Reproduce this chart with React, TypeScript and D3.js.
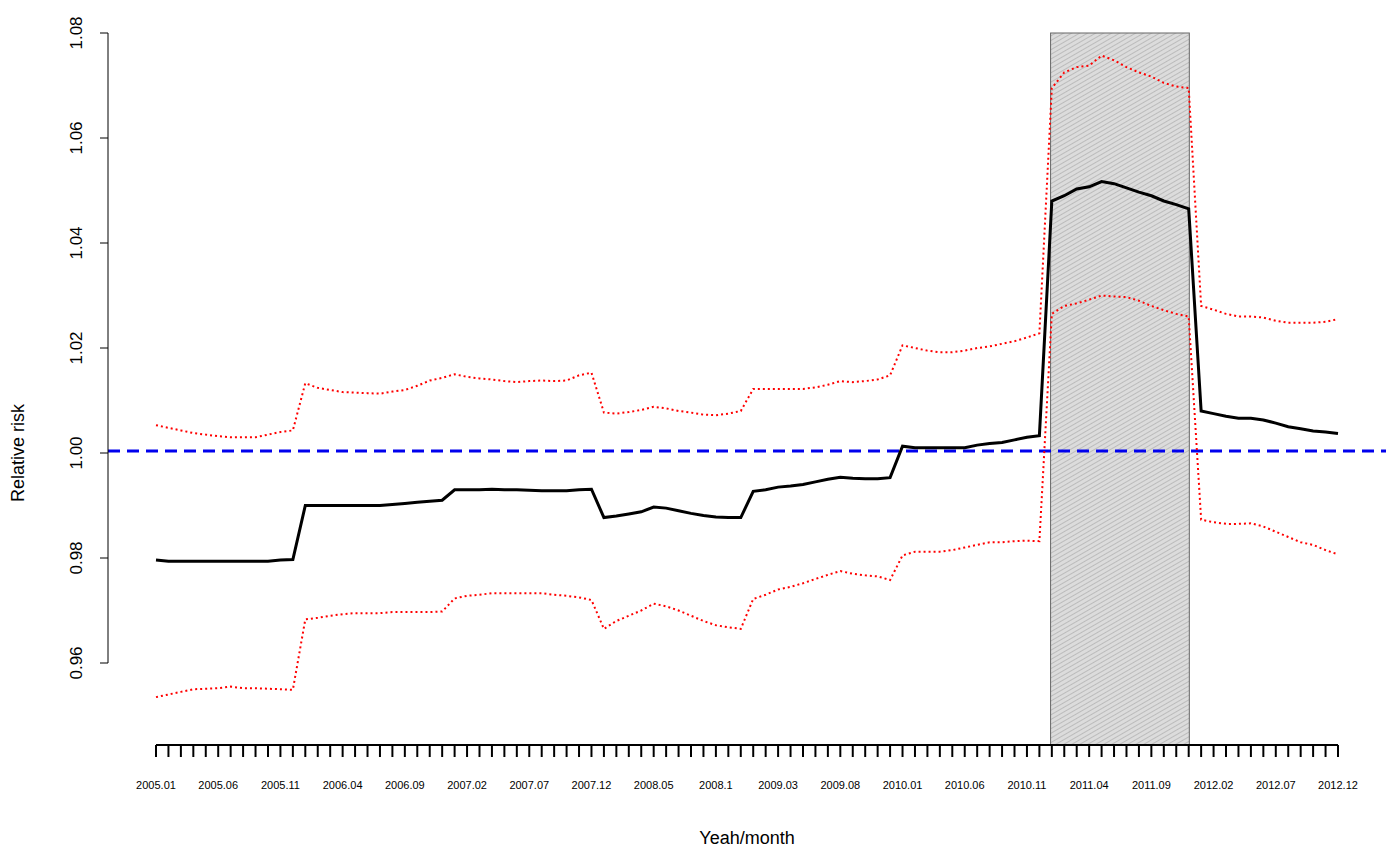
import * as d3 from "d3";

const tickLabels = ["2005.01","2005.06","2005.11","2006.04","2006.09","2007.02","2007.07","2007.12","2008.05","2008.1","2009.03","2009.08","2010.01","2010.06","2010.11","2011.04","2011.09","2012.02","2012.07","2012.12"];

const estimate = [
  0.9796,0.9794,0.9794,0.9794,0.9794,0.9794,0.9794,0.9794,0.9794,0.9794,0.9796,0.9797,
  0.9900,0.9900,0.9900,0.9900,0.9900,0.9900,0.9900,0.9902,0.9904,0.9906,0.9908,0.9910,
  0.9930,0.9930,0.9930,0.9931,0.9930,0.9930,0.9929,0.9928,0.9928,0.9928,0.9930,0.9931,
  0.9877,0.9880,0.9884,0.9888,0.9897,0.9895,0.9890,0.9885,0.9881,0.9878,0.9877,0.9877,
  0.9927,0.9930,0.9935,0.9937,0.9940,0.9945,0.9950,0.9954,0.9952,0.9951,0.9951,0.9953,
  1.0013,1.0010,1.0010,1.0010,1.0010,1.0010,1.0015,1.0018,1.0020,1.0025,1.0030,1.0033,
  1.0480,1.0490,1.0503,1.0507,1.0517,1.0513,1.0505,1.0497,1.0490,1.0480,1.0473,1.0465,
  1.0080,1.0075,1.0070,1.0066,1.0066,1.0063,1.0057,1.0050,1.0046,1.0042,1.0040,1.0037,
];
const upper = [
  1.0053,1.0048,1.0043,1.0038,1.0035,1.0032,1.0030,1.0030,1.0030,1.0035,1.0040,1.0043,
  1.0133,1.0124,1.0120,1.0116,1.0115,1.0114,1.0113,1.0117,1.0120,1.0128,1.0138,1.0143,
  1.0150,1.0145,1.0142,1.0140,1.0137,1.0135,1.0137,1.0138,1.0137,1.0138,1.0148,1.0153,
  1.0077,1.0075,1.0078,1.0082,1.0088,1.0085,1.0080,1.0077,1.0073,1.0072,1.0075,1.0080,
  1.0122,1.0122,1.0122,1.0122,1.0122,1.0125,1.0130,1.0137,1.0135,1.0137,1.0140,1.0148,
  1.0205,1.0200,1.0195,1.0192,1.0192,1.0195,1.0200,1.0203,1.0208,1.0213,1.0220,1.0228,
  1.0695,1.0725,1.0735,1.0738,1.0757,1.0748,1.0735,1.0725,1.0717,1.0705,1.0698,1.0695,
  1.0280,1.0273,1.0265,1.0260,1.0260,1.0258,1.0252,1.0248,1.0248,1.0248,1.0250,1.0255,
];
const lower = [
  0.9535,0.9540,0.9545,0.9550,0.9551,0.9552,0.9555,0.9552,0.9552,0.9551,0.9550,0.9549,
  0.9683,0.9686,0.9690,0.9693,0.9695,0.9695,0.9695,0.9697,0.9697,0.9697,0.9697,0.9698,
  0.9723,0.9728,0.9730,0.9733,0.9733,0.9733,0.9733,0.9733,0.9730,0.9728,0.9725,0.9720,
  0.9665,0.9680,0.9690,0.9700,0.9713,0.9708,0.9700,0.9690,0.9680,0.9672,0.9668,0.9665,
  0.9722,0.9730,0.9740,0.9745,0.9752,0.9760,0.9768,0.9775,0.9770,0.9767,0.9765,0.9758,
  0.9805,0.9812,0.9812,0.9812,0.9815,0.9820,0.9825,0.9830,0.9830,0.9832,0.9833,0.9832,
  1.0265,1.0280,1.0285,1.0292,1.0300,1.0298,1.0297,1.0290,1.0280,1.0272,1.0265,1.0260,
  0.9873,0.9868,0.9865,0.9865,0.9866,0.9860,0.9850,0.9840,0.9830,0.9825,0.9815,0.9807,
];
const yTicks = [0.96, 0.98, 1.0, 1.02, 1.04, 1.06, 1.08];
const highlight = [71.9, 83.05];

export default function App() {
  const width = 1386, height = 849;
  const x = d3.scaleLinear([0, 95], [156, 1338]);
  const y = d3.scaleLinear([0.96, 1.08], [663, 33]);
  const line = d3.line<number>((_, i) => x(i), (d) => y(d));
  const axisY = 745;
  const font = "Liberation Sans, Arial, sans-serif";
  return (
    <svg width={width} height={height} style={{ position: "absolute", left: 0, top: 0 }} fontFamily={font}>
      <defs>
        <pattern id="hatch" width="6" height="4" patternUnits="userSpaceOnUse" patternTransform="rotate(-30)">
          <rect width="6" height="4" fill="#dcdcdc" />
          <line x1="0" y1="0" x2="6" y2="0" stroke="#9a9a9a" strokeWidth="1" />
        </pattern>
      </defs>
      <rect x={x(highlight[0])} y={y(1.08)} width={x(highlight[1]) - x(highlight[0])} height={axisY - y(1.08)}
        fill="url(#hatch)" stroke="#666" strokeWidth="1" />
      <line x1={108} x2={1386} y1={y(1.0004)} y2={y(1.0004)} stroke="#0000ee" strokeWidth="3" strokeDasharray="12,7" />
      <path d={line(upper)!} fill="none" stroke="red" strokeWidth="2" strokeDasharray="2,3" />
      <path d={line(lower)!} fill="none" stroke="red" strokeWidth="2" strokeDasharray="2,3" />
      <path d={line(estimate)!} fill="none" stroke="black" strokeWidth="3" />
      <line x1={108} x2={108} y1={y(0.96)} y2={y(1.08)} stroke="black" />
      {yTicks.map((t) => (
        <g key={t}>
          <line x1={100} x2={108} y1={y(t)} y2={y(t)} stroke="black" />
          <text transform={`translate(82,${y(t)}) rotate(-90)`} textAnchor="middle" fontSize="17">{t.toFixed(2)}</text>
        </g>
      ))}
      <text transform={`translate(24,${y(1.0)}) rotate(-90)`} textAnchor="middle" fontSize="18">Relative risk</text>
      <line x1={x(0)} x2={x(95)} y1={axisY} y2={axisY} stroke="black" strokeWidth="2" />
      {d3.range(96).map((i) => (
        <line key={i} x1={x(i)} x2={x(i)} y1={axisY} y2={axisY + 12} stroke="black" strokeWidth="2" />
      ))}
      {tickLabels.map((l, k) => (
        <text key={l} x={x(k * 5)} y={789} textAnchor="middle" fontSize="11">{l}</text>
      ))}
      <text x={747} y={844} textAnchor="middle" fontSize="18">Yeah/month</text>
    </svg>
  );
}
